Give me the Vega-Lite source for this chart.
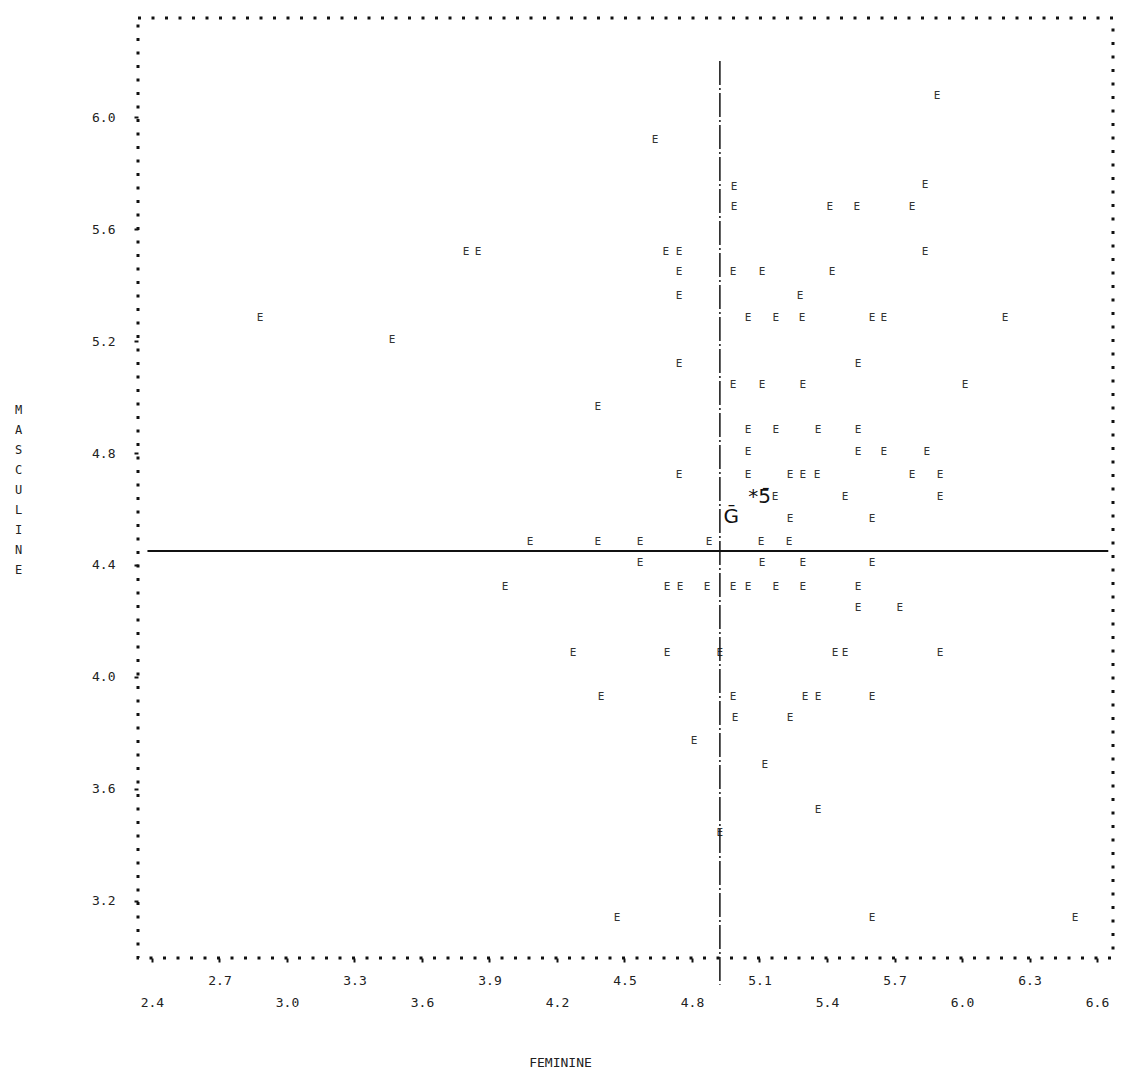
{
  "$schema": "https://vega.github.io/schema/vega-lite/v6.json",
  "width": 975,
  "height": 940,
  "autosize": {"type": "none"},
  "padding": {"left": 138, "top": 18, "right": 13, "bottom": 132},
  "background": "white",
  "config": {
    "view": {"stroke": "#111", "strokeWidth": 3, "strokeDash": [3, 10.5]},
    "axis": {"domain": false, "grid": false, "tickColor": "#111", "tickWidth": 2, "tickSize": 4, "labelFont": "DejaVu Sans Mono", "labelFontSize": 13, "labelColor": "#222", "titleFont": "DejaVu Sans Mono", "titleFontWeight": "normal", "titleColor": "#222", "labelOverlap": false, "labelFlush": false}
  },
  "datasets": {
    "pts": [
      {"fem": 4.636, "masc": 5.918}, {"fem": 2.88, "masc": 5.282}, {"fem": 3.467, "masc": 5.204},
      {"fem": 3.796, "masc": 5.518}, {"fem": 3.849, "masc": 5.518}, {"fem": 4.684, "masc": 5.518},
      {"fem": 4.742, "masc": 5.518}, {"fem": 4.742, "masc": 5.446}, {"fem": 4.742, "masc": 5.361},
      {"fem": 4.742, "masc": 5.118}, {"fem": 4.382, "masc": 4.964}, {"fem": 4.742, "masc": 4.721},
      {"fem": 4.08, "masc": 4.482}, {"fem": 4.382, "masc": 4.482}, {"fem": 4.569, "masc": 4.482},
      {"fem": 4.876, "masc": 4.482}, {"fem": 4.569, "masc": 4.407}, {"fem": 3.969, "masc": 4.321},
      {"fem": 4.689, "masc": 4.321}, {"fem": 4.747, "masc": 4.321}, {"fem": 4.867, "masc": 4.321},
      {"fem": 4.271, "masc": 4.086}, {"fem": 4.689, "masc": 4.086}, {"fem": 4.924, "masc": 4.086},
      {"fem": 4.396, "masc": 3.929}, {"fem": 4.809, "masc": 3.771}, {"fem": 4.924, "masc": 3.443},
      {"fem": 4.467, "masc": 3.139},
      {"fem": 5.889, "masc": 6.075}, {"fem": 4.987, "masc": 5.75}, {"fem": 4.987, "masc": 5.679},
      {"fem": 5.836, "masc": 5.757}, {"fem": 5.413, "masc": 5.679}, {"fem": 5.533, "masc": 5.679},
      {"fem": 5.778, "masc": 5.679}, {"fem": 5.836, "masc": 5.518}, {"fem": 4.982, "masc": 5.446},
      {"fem": 5.111, "masc": 5.446}, {"fem": 5.422, "masc": 5.446}, {"fem": 5.28, "masc": 5.361},
      {"fem": 5.049, "masc": 5.282}, {"fem": 5.173, "masc": 5.282}, {"fem": 5.289, "masc": 5.282},
      {"fem": 5.6, "masc": 5.282}, {"fem": 5.653, "masc": 5.282}, {"fem": 6.191, "masc": 5.282},
      {"fem": 5.538, "masc": 5.118}, {"fem": 4.982, "masc": 5.043}, {"fem": 5.111, "masc": 5.043},
      {"fem": 5.293, "masc": 5.043}, {"fem": 6.013, "masc": 5.043}, {"fem": 5.049, "masc": 4.882},
      {"fem": 5.173, "masc": 4.882}, {"fem": 5.36, "masc": 4.882}, {"fem": 5.538, "masc": 4.882},
      {"fem": 5.049, "masc": 4.804}, {"fem": 5.538, "masc": 4.804}, {"fem": 5.653, "masc": 4.804},
      {"fem": 5.844, "masc": 4.804}, {"fem": 5.049, "masc": 4.721}, {"fem": 5.236, "masc": 4.721},
      {"fem": 5.293, "masc": 4.721}, {"fem": 5.356, "masc": 4.721}, {"fem": 5.778, "masc": 4.721},
      {"fem": 5.902, "masc": 4.721}, {"fem": 5.902, "masc": 4.643}, {"fem": 5.169, "masc": 4.643},
      {"fem": 5.48, "masc": 4.643}, {"fem": 5.236, "masc": 4.564}, {"fem": 5.6, "masc": 4.564},
      {"fem": 5.107, "masc": 4.482}, {"fem": 5.231, "masc": 4.482}, {"fem": 5.111, "masc": 4.407},
      {"fem": 5.293, "masc": 4.407}, {"fem": 5.6, "masc": 4.407}, {"fem": 4.982, "masc": 4.321},
      {"fem": 5.049, "masc": 4.321}, {"fem": 5.173, "masc": 4.321}, {"fem": 5.293, "masc": 4.321},
      {"fem": 5.538, "masc": 4.321}, {"fem": 5.538, "masc": 4.246}, {"fem": 5.724, "masc": 4.246},
      {"fem": 5.902, "masc": 4.086}, {"fem": 5.436, "masc": 4.086}, {"fem": 5.48, "masc": 4.086},
      {"fem": 4.982, "masc": 3.929}, {"fem": 5.302, "masc": 3.929}, {"fem": 5.36, "masc": 3.929},
      {"fem": 5.6, "masc": 3.929}, {"fem": 4.991, "masc": 3.854}, {"fem": 5.236, "masc": 3.854},
      {"fem": 5.124, "masc": 3.686}, {"fem": 5.36, "masc": 3.525}, {"fem": 5.6, "masc": 3.139},
      {"fem": 6.502, "masc": 3.139}
    ],
    "notes": [
      {"fem": 4.975, "masc": 4.57, "label": "Ḡ"},
      {"fem": 5.1, "masc": 4.643, "label": "*5̄"}
    ],
    "vline": [{"fem": 4.924, "masc": 6.2, "masc2": 2.9}],
    "hline": [{"masc": 4.45, "fem": 2.38, "fem2": 6.65}]
  },
  "layer": [
    {
      "data": {"name": "pts"},
      "mark": {"type": "text", "text": "E", "font": "DejaVu Sans Mono", "fontSize": 11, "color": "#333", "align": "center", "baseline": "middle"},
      "encoding": {
        "x": {
          "field": "fem", "type": "quantitative",
          "scale": {"domain": [2.338, 6.671], "nice": false, "zero": false},
          "axis": {
            "values": [2.4, 2.7, 3.0, 3.3, 3.6, 3.9, 4.2, 4.5, 4.8, 5.1, 5.4, 5.7, 6.0, 6.3, 6.6],
            "labelExpr": "round(datum.value*10) % 6 == 0 ? ['', format(datum.value, '.1f')] : format(datum.value, '.1f')",
            "labelBaseline": "top", "labelLineHeight": 22, "labelPadding": 12,
            "title": "FEMININE", "titleFontSize": 13, "titleX": 422, "titleY": 104, "titleAlign": "center", "titleBaseline": "middle"
          }
        },
        "y": {
          "field": "masc", "type": "quantitative",
          "scale": {"domain": [2.996, 6.354], "nice": false, "zero": false},
          "axis": {
            "values": [3.2, 3.6, 4.0, 4.4, 4.8, 5.2, 5.6, 6.0],
            "format": ".1f", "labelPadding": 19,
            "title": ["M", "A", "S", "C", "U", "L", "I", "N", "E"],
            "titleAngle": 0, "titleFontSize": 12, "titleLineHeight": 20,
            "titleX": -120, "titleY": 386, "titleAlign": "center", "titleBaseline": "top"
          }
        }
      }
    },
    {
      "data": {"name": "vline"},
      "mark": {"type": "rule", "color": "#111", "strokeWidth": 1.5, "strokeDash": [24, 3, 2, 3]},
      "encoding": {
        "x": {"field": "fem", "type": "quantitative"},
        "y": {"field": "masc", "type": "quantitative"},
        "y2": {"field": "masc2"}
      }
    },
    {
      "data": {"name": "hline"},
      "mark": {"type": "rule", "color": "#111", "strokeWidth": 2},
      "encoding": {
        "y": {"field": "masc", "type": "quantitative"},
        "x": {"field": "fem", "type": "quantitative"},
        "x2": {"field": "fem2"}
      }
    },
    {
      "data": {"name": "notes"},
      "mark": {"type": "text", "font": "DejaVu Sans", "fontSize": 20, "color": "#111", "align": "center", "baseline": "middle"},
      "encoding": {
        "x": {"field": "fem", "type": "quantitative"},
        "y": {"field": "masc", "type": "quantitative"},
        "text": {"field": "label"}
      }
    }
  ]
}
